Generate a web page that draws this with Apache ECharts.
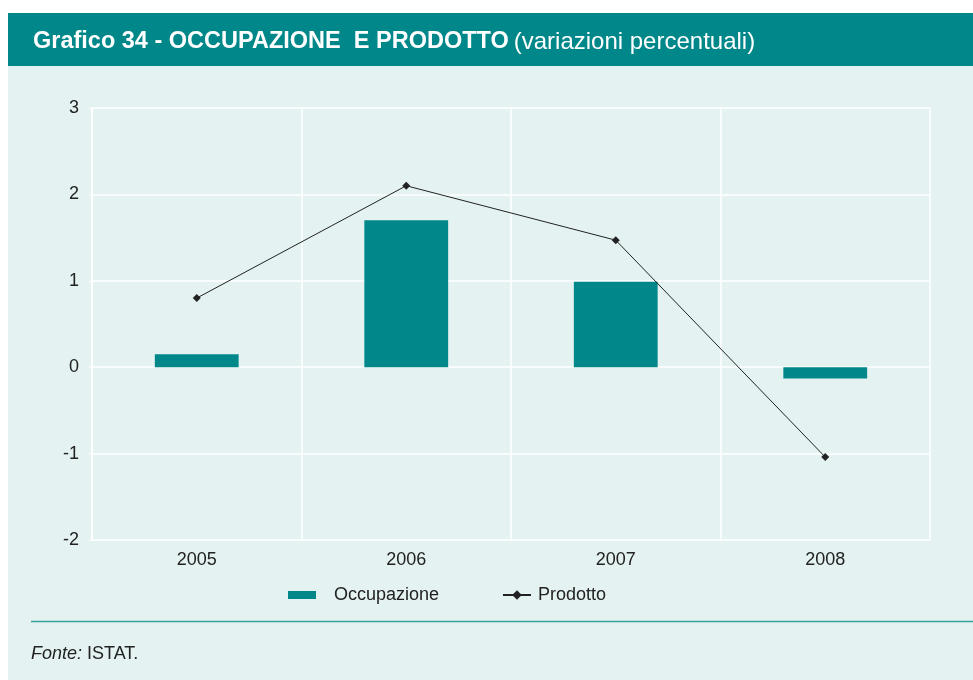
<!DOCTYPE html>
<html>
<head>
<meta charset="utf-8">
<script src="https://cdn.jsdelivr.net/npm/echarts@6/dist/echarts.min.js"></script>
<style>
html,body{margin:0;padding:0;background:#fff;}
#main{width:973px;height:680px;}
</style>
</head>
<body>
<div id="main"></div>
<script>
var anni = ['2005', '2006', '2007', '2008'];
var occupazione = [0.15, 1.7, 0.99, -0.13];
var prodotto = [0.8, 2.1, 1.47, -1.04];
var tickY = [-2, -1, 0, 1, 2, 3];

var teal = '#00878a';
var chiaro = '#e4f2f2';
var font = 'Liberation Sans, Arial, sans-serif';

var myChart = echarts.init(document.getElementById('main'));

var option = {
    backgroundColor: '#fff',
    animation: false,
    textStyle: { fontFamily: font },
    graphic: [
        { type: 'rect', z: -10, shape: { x: 8, y: 66, width: 965, height: 614 }, style: { fill: chiaro } },
        { type: 'rect', z: -9, shape: { x: 8, y: 13, width: 965, height: 53 }, style: { fill: teal } },
        { type: 'line', shape: { x1: 31, y1: 621.5, x2: 973, y2: 621.5 }, style: { stroke: '#3a9fa1', lineWidth: 1.5 } },
        {
            type: 'text', left: 31, top: 645,
            style: {
                text: '{i|Fonte:} ISTAT.',
                fontSize: 18, fontFamily: font, fill: '#222',
                rich: { i: { fontStyle: 'italic', fontSize: 18, fontFamily: font, fill: '#222' } }
            }
        }
    ],
    title: {
        left: 28, top: 25,
        text: '{b|Grafico 34 - OCCUPAZIONE  E PRODOTTO} {n|(variazioni percentuali)}',
        textStyle: {
            fontWeight: 'normal',
            rich: {
                b: { fontSize: 23.5, fontWeight: 'bold', color: '#fff', fontFamily: font },
                n: { fontSize: 24, fontWeight: 'normal', color: '#fff', fontFamily: font }
            }
        }
    },
    legend: [
        {
            top: 581, left: 283,
            itemWidth: 28, itemHeight: 8,
            textStyle: { fontSize: 18, color: '#222', fontFamily: font, padding: [0, 0, 0, 13] },
            data: [{ name: 'Occupazione', icon: 'rect' }]
        },
        {
            top: 581, left: 497,
            itemWidth: 28, itemHeight: 12,
            textStyle: { fontSize: 18, color: '#222', fontFamily: font, padding: [0, 0, 0, 2] },
            data: [{ name: 'Prodotto' }]
        }
    ],
    grid: { left: 92, right: 43, top: 108, bottom: 140 },
    xAxis: {
        type: 'category',
        data: anni,
        axisLine: { show: false },
        axisTick: { show: false },
        axisLabel: { fontSize: 18, color: '#222', margin: 11 },
        splitLine: { show: true, lineStyle: { color: '#fff', width: 1.5 } }
    },
    yAxis: {
        type: 'value',
        min: -2, max: 3, interval: 1,
        axisLine: { show: true, lineStyle: { color: '#fff', width: 1.5 } },
        axisTick: { show: true, length: 3, lineStyle: { color: '#fff' } },
        axisLabel: {
            fontSize: 18, color: '#222', margin: 13,
            formatter: function (v) { return tickY.indexOf(v) >= 0 ? String(v) : ''; }
        },
        splitLine: { show: true, lineStyle: { color: '#fff', width: 1.5 } }
    },
    series: [
        {
            name: 'Occupazione',
            type: 'bar',
            data: occupazione,
            barWidth: '40%',
            itemStyle: { color: teal }
        },
        {
            name: 'Prodotto',
            type: 'line',
            data: prodotto,
            symbol: 'diamond',
            symbolSize: 8,
            lineStyle: { color: '#222', width: 1 },
            itemStyle: { color: '#222' }
        }
    ]
};

myChart.setOption(option);
</script>
</body>
</html>
